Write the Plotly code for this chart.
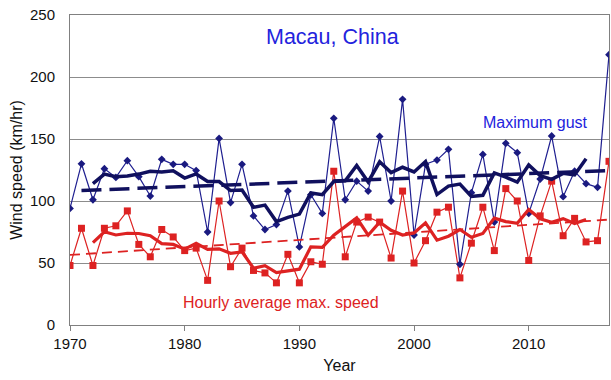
import plotly.graph_objects as go

years = list(range(1970, 2018))

gust = [94, 130, 101, 126, 119, 132.5, 119.6, 104, 133.6, 129.6,
        129.6, 124.5, 75, 150.5, 98.7, 129.6, 88, 77, 81, 108,
        63, 105, 90, 166.7, 101, 116, 108, 152, 100, 182,
        72.6, 129.6, 133, 141.7, 49, 106.7, 137.6, 83, 146.5, 139,
        90, 117.7, 152.4, 103.5, 124, 114, 111, 218]

hourly = [48, 78, 48, 78, 80, 92, 65, 55, 77, 71,
          60, 62, 36, 100, 47, 62, 44, 42, 34, 57,
          34, 51, 49, 124, 55, 83, 87, 83, 54, 108,
          50, 68, 91, 95, 38, 66, 95, 60, 110, 100,
          52, 88, 116, 72, 86, 67, 68, 132]

ma_years = list(range(1972, 2016))
gust_ma = [114, 121.7, 119.6, 120.2, 121.7, 123.9, 123.3, 124.3, 118.5, 121.8,
           115.7, 115.7, 108.4, 108.8, 94.9, 96.7, 83.4, 86.8, 89.4, 106.5,
           105.1, 115.7, 116.3, 128.7, 115.4, 131.6, 122.9, 127.2, 123.4, 131.8,
           105.2, 112, 113.6, 103.6, 104.6, 122.6, 119.2, 115.2, 129.1, 120.5,
           117.5, 122.3, 121, 134.1]
hourly_ma = [66.4, 75.2, 72.6, 74, 73.8, 72, 65.6, 65, 61.2, 65.8,
             61, 61.4, 57.8, 59, 45.8, 47.8, 42.2, 43.6, 45, 63,
             62.6, 72.4, 79.6, 86.4, 72.4, 83, 76.4, 72.6, 74.2, 82.4,
             68.4, 71.6, 77, 70.8, 73.8, 86.2, 83.4, 82, 93.2, 85.6,
             82.8, 85.8, 81.8, 85]

gust_trend_x = [1971, 2017]
gust_trend_y = [108.5, 124.5]
hourly_trend_x = [1970, 2017]
hourly_trend_y = [56.5, 85]

x_ticks = [1970, 1980, 1990, 2000, 2010]
y_ticks = [0, 50, 100, 150, 200, 250]

NAVY = "#1a1a80"
NAVY_DARK = "#10105e"
RED = "#dd2222"
BLUE_TEXT = "#2323dd"
FONT = "Liberation Sans, Arial, sans-serif"

fig = go.Figure()
fig.add_trace(go.Scatter(x=years, y=hourly, mode="lines+markers",
                         line=dict(color=RED, width=1.2),
                         marker=dict(symbol="square", size=7, color=RED)))
fig.add_trace(go.Scatter(x=years, y=gust, mode="lines+markers",
                         line=dict(color="#1f1f90", width=1.2),
                         marker=dict(symbol="diamond", size=6, color=NAVY)))
fig.add_trace(go.Scatter(x=hourly_trend_x, y=hourly_trend_y, mode="lines",
                         line=dict(color=RED, width=1.8, dash="10px,6px")))
fig.add_trace(go.Scatter(x=gust_trend_x, y=gust_trend_y, mode="lines",
                         line=dict(color=NAVY_DARK, width=3.5, dash="20px,8px")))
fig.add_trace(go.Scatter(x=ma_years, y=hourly_ma, mode="lines",
                         line=dict(color=RED, width=3.2)))
fig.add_trace(go.Scatter(x=ma_years, y=gust_ma, mode="lines",
                         line=dict(color=NAVY_DARK, width=3.5)))

fig.add_annotation(text="Macau, China", x=1992.9, y=232.3, showarrow=False,
                   font=dict(family=FONT, size=21.5, color=BLUE_TEXT))
fig.add_annotation(text="Maximum gust", x=2010.6, y=163, showarrow=False,
                   font=dict(family=FONT, size=16, color=BLUE_TEXT))
fig.add_annotation(text="Hourly average max. speed", x=1988.4, y=18.5, showarrow=False,
                   font=dict(family=FONT, size=16, color=RED))

fig.update_layout(
    width=611, height=380,
    margin=dict(l=70, r=2, t=15, b=55),
    paper_bgcolor="white", plot_bgcolor="white",
    showlegend=False,
    font=dict(family=FONT, size=15, color="#111111"),
    xaxis=dict(range=[1970, 2017], tickvals=x_ticks, ticks="outside", ticklen=5,
               tickcolor="#808080", showline=True, linecolor="#808080", linewidth=1,
               mirror=True, showgrid=False, zeroline=False,
               title=dict(text="Year", font=dict(size=16), standoff=8)),
    yaxis=dict(range=[0, 250], tickvals=y_ticks, showline=True, linecolor="#808080",
               linewidth=1, mirror=True, showgrid=True, gridcolor="#8c8c8c", gridwidth=1,
               zeroline=False, ticks="", ticklabelstandoff=11,
               title=dict(text="Wind speed (km/hr)", font=dict(size=16), standoff=3)),
)

fig.write_html("out.html")
